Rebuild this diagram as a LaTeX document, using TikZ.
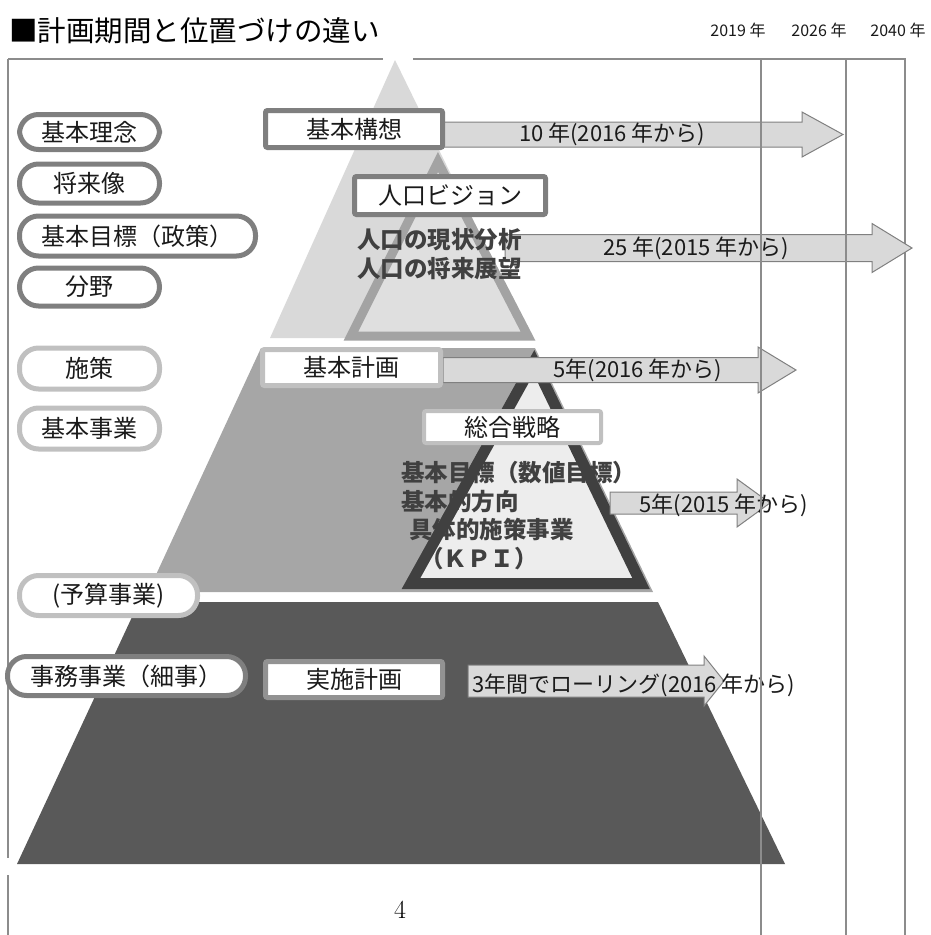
\documentclass[tikz,border=0pt]{standalone}
\usepackage{fontspec}
\setmainfont{Noto Sans CJK JP}
\newfontfamily\pagenofont{Latin Modern Roman}

\definecolor{pyrlight}{HTML}{D9D9D9}
\definecolor{pyrmid}{HTML}{A6A6A6}
\definecolor{pyrdark}{HTML}{595959}
\definecolor{visionfill}{HTML}{DFDFDF}
\definecolor{visionline}{HTML}{A3A3A3}
\definecolor{senryakufill}{HTML}{EDEDED}
\definecolor{senryakuline}{HTML}{404040}
\definecolor{frameline}{HTML}{8C8C8C}
\definecolor{darkring}{HTML}{7F7F7F}
\definecolor{lightring}{HTML}{C0C0C0}
\definecolor{arrowfill}{HTML}{D9D9D9}
\definecolor{arrowline}{HTML}{808080}
\definecolor{boldgrey}{HTML}{404040}
\definecolor{inktext}{HTML}{1A1A1A}

% block arrow: start x, head x, tip x, mid y, body half, head half
\newcommand{\kikanarrow}[6]{%
	\draw[arrowbody] (#1,#4-#5) -- (#2,#4-#5) -- (#2,#4-#6) -- (#3,#4)
		-- (#2,#4+#6) -- (#2,#4+#5) -- (#1,#4+#5) -- cycle;}

\begin{document}
\begin{tikzpicture}[x=1pt,y=-1pt,
		pill/.style={draw=darkring,fill=white,line width=5pt,rounded corners=19pt,
			text=inktext,font=\fontsize{24}{28}\selectfont,inner sep=0pt},
		planbox/.style={draw=darkring,fill=white,line width=5pt,rounded corners=2pt,
			text=inktext,font=\fontsize{24}{28}\selectfont,inner sep=0pt},
		arrowbody/.style={fill=arrowfill,draw=arrowline,line width=1pt},
		arrowtext/.style={text=inktext,font=\fontsize{22}{26}\selectfont,inner sep=0pt},
		boldnote/.style={text=boldgrey,font=\fontsize{23.5}{28.5}\selectfont\bfseries,
			align=left,inner sep=0pt,anchor=west},
		yearlbl/.style={text=inktext,font=\fontsize{16}{18}\selectfont,inner sep=0pt}]
	\useasboundingbox (0,0) rectangle (931,935);

	% title and years
	\node[anchor=west,inner sep=0pt,font=\fontsize{28.5}{32}\selectfont] (title) at (9,31) {■計画期間と位置づけの違い};
	\node[yearlbl] (y2019) at (738,30) {2019 年};
	\node[yearlbl] (y2026) at (819,30) {2026 年};
	\node[yearlbl] (y2040) at (898,30) {2040 年};

	% frame
	\draw[frameline,line width=1.5pt] (8,59) -- (383,59);
	\draw[frameline,line width=1.5pt] (413,59) -- (905,59) -- (905,935);
	\draw[frameline,line width=1.5pt] (8,59) -- (8,858);
	\draw[frameline,line width=1.5pt] (8,875) -- (8,935);

	% pyramid
	\fill[pyrlight] (395,60) -- (270,338) -- (531,338) -- cycle;
	\fill[pyrmid] (261,348) -- (535,348) -- (653,592) -- (148,592) -- cycle;
	\fill[pyrdark] (139,602) -- (658,602) -- (785,864) -- (17,864) -- cycle;

	% inner triangles
	\filldraw[fill=visionfill,draw=visionline,line width=9pt] (438,162) -- (351,336) -- (528,336) -- cycle;
	\filldraw[fill=senryakufill,draw=senryakuline,line width=11pt] (534,362) -- (411,583.5) -- (641,583.5) -- cycle;

	% period arrows
	\kikanarrow{440}{802}{843}{134.5}{12.5}{22.5}
	\kikanarrow{505}{872}{912}{248}{13.5}{24.5}
	\kikanarrow{443}{758}{796}{370}{12.5}{23}
	\kikanarrow{610}{737}{770}{503}{11}{24}
	\kikanarrow{468}{704}{724}{681}{16}{25}

	\node[arrowtext] (a10) at (612,134) {10 年(2016 年から)};
	\node[arrowtext] (a25) at (696,248) {25 年(2015 年から)};
	\node[arrowtext] (a5k) at (638,370) {5年(2016 年から)};
	\node[arrowtext] (a5s) at (724,505) {5年(2015 年から)};
	\node[arrowtext] (a3) at (634,685) {3年間でローリング(2016 年から)};

	% left labels
	\node[pill,minimum width=140pt,minimum height=35pt] (rinen) at (89.5,132) {基本理念};
	\node[pill,minimum width=140pt,minimum height=39pt] (shorai) at (89.5,183.5) {将来像};
	\node[pill,minimum width=236pt,minimum height=40pt] (mokuhyo) at (137.5,236) {基本目標（政策）};
	\node[pill,minimum width=140pt,minimum height=38pt] (bunya) at (89.5,287) {分野};
	\node[pill,draw=lightring,minimum width=140pt,minimum height=41pt] (shisaku) at (89.5,368.5) {施策};
	\node[pill,draw=lightring,minimum width=140pt,minimum height=41pt] (kjigyo) at (89.5,428.5) {基本事業};
	\node[pill,draw=lightring,minimum width=178pt,minimum height=40pt] (yosan) at (108.5,595.5) {(予算事業)};
	\node[pill,minimum width=238pt,minimum height=39pt] (jimu) at (126.5,676) {事務事業（細事）};

	% plan boxes
	\node[planbox,minimum width=177pt,minimum height=37pt] (koso) at (354,129) {基本構想};
	\node[planbox,minimum width=191pt,minimum height=38pt] (vision) at (450,195.5) {人口ビジョン};
	\node[planbox,draw=lightring,minimum width=178pt,minimum height=36pt] (keikaku) at (351.5,367.5) {基本計画};
	\node[planbox,draw=lightring,line width=4pt,minimum width=177pt,minimum height=32pt] (senryaku) at (512.5,427) {総合戦略};
	\node[planbox,draw=darkring!85,minimum width=177pt,minimum height=36pt] (jisshi) at (354,679.5) {実施計画};

	% contents
	\node[boldnote] (jinko) at (357,254) {人口の現状分析\\人口の将来展望};
	\node[boldnote] (kpi) at (401,515.5) {基本目標（数値目標）\\基本的方向\\\hspace*{8pt}具体的施策事業\\\hspace*{19pt}（ＫＰＩ）};

	% year lines
	\draw[frameline,line width=1.5pt] (761,59) -- (761,935);
	\draw[frameline,line width=1.5pt] (846,59) -- (846,935);

	\node[inner sep=0pt,font=\pagenofont\fontsize{26}{30}\selectfont] (pageno) at (400,910) {4};
\end{tikzpicture}
\end{document}
